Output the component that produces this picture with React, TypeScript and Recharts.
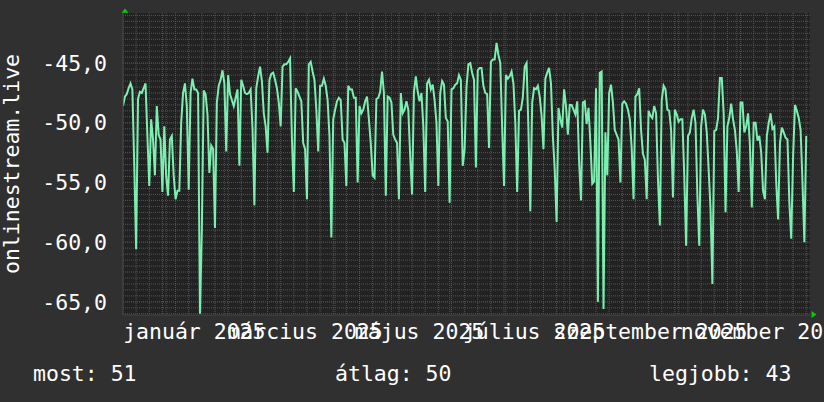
import { LineChart, Line, XAxis, YAxis, CartesianGrid } from 'recharts'

// one value per day, starting 2024-12-09
const START = Date.UTC(2024, 11, 9)
const dayOf = (y: number, m: number, d: number) =>
  Math.round((Date.UTC(y, m - 1, d) - START) / 86400000)

const dec2024 = [
  -48.6, -47.8, -47.6, -47.1, -46.7, -47.2, -53.6, -60.6, -48.0, -47.4,
  -47.5, -47.1, -46.7, -51.1, -55.3, -49.7, -51.4, -54.4, -48.6, -51.0,
  -51.4, -55.8, -50.3,
]
const jan2025 = [
  -54.5, -56.1, -51.4, -51.1, -54.4, -56.4, -55.7,
  -55.7, -50.0, -47.5, -46.7, -48.6, -55.6, -47.5, -46.3, -47.2, -47.2,
  -47.5, -66.0, -59.0, -47.3, -47.6, -49.3, -54.2, -51.9, -52.2, -58.8,
  -48.3, -46.9, -46.4, -45.6,
]
const feb2025 = [
  -46.7, -52.4, -46.0, -47.6, -48.1, -48.6,
  -47.9, -47.2, -53.6, -46.4, -46.9, -47.5, -47.6, -47.5, -47.2, -50.5,
  -56.9, -47.1, -46.1, -45.3, -46.5, -49.2, -50.3, -52.5, -46.4, -45.9,
  -45.8, -46.4,
]
const mar2025 = [
  -47.1, -48.3, -50.3, -45.3, -45.1, -45.1, -44.9, -44.6,
  -51.4, -55.8, -47.1, -47.4, -47.8, -48.2, -51.7, -52.2, -56.4, -45.1,
  -44.9, -45.7, -46.4, -48.9, -52.4, -46.9, -46.9, -46.3, -46.9, -48.1,
  -51.1, -59.6, -49.7,
]
const apr2025 = [
  -48.9, -48.2, -47.9, -48.1, -51.4, -51.7, -55.3, -46.9, -47.2,
  -47.2, -47.9, -47.9, -55.0, -48.6, -49.2, -48.9, -48.2, -47.8, -49.7,
  -51.7, -54.4, -54.6, -48.0, -47.9, -47.4, -45.7, -47.5, -56.1, -47.8,
  -47.9,
]
const may2025 = [
  -48.3, -51.0, -51.4, -51.7, -56.4, -47.5, -49.2, -48.9, -48.2,
  -48.9, -52.8, -56.0, -47.4, -46.1, -47.4, -48.2, -47.5, -50.3, -55.8,
  -46.7, -46.4, -47.2, -46.8, -48.1, -50.0, -55.3, -47.5, -46.5, -46.8,
  -49.6, -49.9,
]
const jun2025 = [
  -56.7, -47.2, -47.1, -46.8, -46.7, -46.0, -46.4, -53.6, -52.2,
  -47.0, -45.1, -45.0, -45.8, -46.4, -53.75, -45.6, -45.4, -45.4, -46.9,
  -47.5, -47.6, -52.1, -44.9, -44.7, -44.7, -43.3, -44.3, -45.0, -50.4,
  -55.3,
]
const jul2025 = [
  -46.0, -46.3, -46.1, -45.7, -46.7, -50.0, -55.8, -49.0, -48.9,
  -47.9, -45.3, -45.0, -50.6, -57.4, -48.3, -47.1, -47.2, -46.9, -47.8,
  -49.4, -52.2, -46.3, -45.8, -45.4, -46.7, -51.1, -53.9, -58.3, -48.75,
  -49.7, -50.4,
]
const aug2025 = [
  -47.2, -48.6, -51.0, -48.5, -48.5, -48.9, -49.3, -48.2, -53.3,
  -56.5, -48.3, -48.2, -50.1, -48.75, -51.7, -55.1, -54.9, -47.1, -65.0,
  -45.8, -45.7, -65.6, -50.8, -54.4, -47.5, -46.8, -48.3, -50.6, -51.0,
  -51.4, -55.0,
]
const sep2025 = [
  -48.4, -48.2, -48.4, -48.9, -49.7, -52.1, -56.4, -47.8,
  -47.6, -47.1, -50.6, -52.6, -53.1, -56.4, -49.0, -49.4, -49.6, -48.6,
  -49.2, -54.7, -58.6, -48.1, -46.9, -47.2, -48.9, -49.0, -50.6, -56.25,
  -48.9, -49.3,
]
const oct2025 = [
  -49.9, -49.7, -49.7, -54.4, -60.3, -51.1, -50.8, -49.6, -48.9,
  -50.0, -56.1, -60.3, -50.3, -48.9, -49.3, -50.8, -53.9, -57.2, -63.5,
  -50.7, -50.6, -49.6, -46.25, -46.25, -49.2, -57.5, -50.3, -49.6, -48.4,
  -49.7, -50.6,
]
const nov2025 = [
  -52.4, -55.8, -48.3, -48.3, -50.8, -50.3, -49.2, -51.9,
  -57.1, -50.0, -50.0, -51.5, -51.1, -52.5, -55.7, -56.4, -51.1, -50.0,
  -49.2, -50.5, -50.3, -55.0, -58.1, -51.7, -50.4, -50.8, -51.25, -51.4,
  -56.7, -59.7,
]
const dec2025 = [-52.8, -48.5, -49.0, -49.6, -50.6, -55.0, -60.0, -51.1]

const xLabels = ['január 2025', 'március 2025', 'május 2025', 'július 2025', 'szeptember 2025', 'november 2025']
const labelMonths = [1, 3, 5, 7, 9, 11]
const yTicks = [-65, -60, -55, -50, -45]
const stats: [string, number][] = [['most', 51], ['átlag', 50], ['legjobb', 43]]

const values = [
  ...dec2024, ...jan2025, ...feb2025, ...mar2025, ...apr2025, ...may2025,
  ...jun2025, ...jul2025, ...aug2025, ...sep2025, ...oct2025, ...nov2025, ...dec2025,
]
const data = values.map((v, i) => ({ day: i, value: v }))

const X_MAX = 366
const Y_DOMAIN: [number, number] = [-66.1, -40.8]

const labelDays = labelMonths.map(m => dayOf(2025, m, 16))
const monthDays = [1, 2, 3, 4, 5, 6, 7, 8, 9, 10, 11, 12].map(m => dayOf(2025, m, 1))
const weekDays: number[] = []
for (let d = 0; d <= X_MAX; d += 7) weekDays.push(d)
const halfSteps: number[] = []
for (let v = -66; v <= -41; v += 0.5) halfSteps.push(v)

const FONT = '"DejaVu Sans Mono", monospace'
const FS = 21.5
const statX = [33, 335, 649]

export default function App() {
  return (
    <div style={{ position: 'absolute', left: 0, top: 0, width: 824, height: 402, background: '#303030' }}>
      <LineChart
        width={824}
        height={402}
        data={data}
        margin={{ top: 13, right: 14, bottom: 57, left: 0 }}
      >
        <CartesianGrid
          fill="#222222"
          stroke="#555555"
          strokeDasharray="1 1"
          verticalValues={weekDays}
          horizontalValues={halfSteps}
        />
        <CartesianGrid
          stroke="#8a3434"
          strokeDasharray="1 1"
          verticalValues={monthDays}
          horizontalValues={yTicks}
        />
        <XAxis
          dataKey="day"
          type="number"
          domain={[0, X_MAX]}
          allowDataOverflow
          ticks={labelDays}
          interval={0}
          tickFormatter={(_v: number, i: number) => xLabels[i]}
          tickLine={false}
          tickSize={0}
          tickMargin={9}
          height={30}
          axisLine={{ stroke: '#444444' }}
          tick={{ fill: '#ffffff', fontSize: FS, fontFamily: FONT }}
        />
        <YAxis
          type="number"
          domain={Y_DOMAIN}
          allowDataOverflow
          ticks={yTicks}
          interval={0}
          tickFormatter={(v: number) => v.toFixed(1).replace('.', ',')}
          tickLine={false}
          tickSize={0}
          tickMargin={16}
          width={123}
          axisLine={{ stroke: '#444444' }}
          tick={{ fill: '#ffffff', fontSize: FS, fontFamily: FONT }}
        />
        <Line
          type="linear"
          dataKey="value"
          stroke="#7ceeb0"
          strokeWidth={2}
          dot={false}
          isAnimationActive={false}
        />
      </LineChart>
      <svg
        width={824}
        height={402}
        style={{ position: 'absolute', left: 0, top: 0, pointerEvents: 'none' }}
      >
        <polygon points="121.5,12.7 128.5,12.7 125,8.5" fill="#00cc00" />
        <polygon points="811.5,311 811.5,318 816.5,314.5" fill="#00cc00" />
        <text
          transform="translate(19, 164) rotate(-90)"
          textAnchor="middle"
          fill="#ffffff"
          fontSize={FS}
          fontFamily={FONT}
        >
          onlinestream.live
        </text>
        {stats.map(([name, val], i) => (
          <text key={name} x={statX[i]} y={381} fill="#ffffff" fontSize={FS} fontFamily={FONT}>
            {`${name}: ${val}`}
          </text>
        ))}
      </svg>
    </div>
  )
}
